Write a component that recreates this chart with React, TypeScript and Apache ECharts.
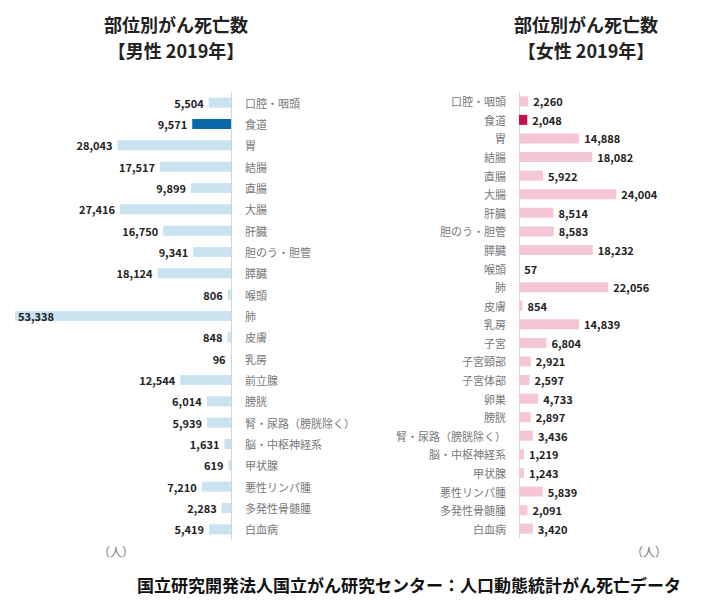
import React, { useEffect, useRef } from "react";
import * as echarts from "echarts";

const maleCategories = ["口腔・咽頭", "食道", "胃", "結腸", "直腸", "大腸", "肝臓", "胆のう・胆管", "膵臓", "喉頭", "肺", "皮膚", "乳房", "前立腺", "膀胱", "腎・尿路（膀胱除く）", "脳・中枢神経系", "甲状腺", "悪性リンパ腫", "多発性骨髄腫", "白血病"];
const maleValues = [5504, 9571, 28043, 17517, 9899, 27416, 16750, 9341, 18124, 806, 53338, 848, 96, 12544, 6014, 5939, 1631, 619, 7210, 2283, 5419];

const femaleCategories = ["口腔・咽頭", "食道", "胃", "結腸", "直腸", "大腸", "肝臓", "胆のう・胆管", "膵臓", "喉頭", "肺", "皮膚", "乳房", "子宮", "子宮頸部", "子宮体部", "卵巣", "膀胱", "腎・尿路（膀胱除く）", "脳・中枢神経系", "甲状腺", "悪性リンパ腫", "多発性骨髄腫", "白血病"];
const femaleValues = [2260, 2048, 14888, 18082, 5922, 24004, 8514, 8583, 18232, 57, 22056, 854, 14839, 6804, 2921, 2597, 4733, 2897, 3436, 1219, 1243, 5839, 2091, 3420];

const highlight = "食道";
const FONT = "'Noto Sans CJK JP', 'Noto Sans', sans-serif";

const fmt = (v: number) => v.toLocaleString("en-US");

export default function App() {
  const ref = useRef<HTMLDivElement>(null);
  useEffect(() => {
    if (!ref.current) return;
    const chart = echarts.init(ref.current, null, { renderer: "svg" });
    const maleMax = Math.max(...maleValues);
    const maleData = maleValues.map((v, i) => {
      const item: any = {
        value: v,
        itemStyle: { color: maleCategories[i] === highlight ? "#0a69ab" : "#c9e3f1" },
      };
      if (v === maleMax) {
        item.label = { position: "insideLeft", distance: 3 };
      }
      return item;
    });
    const femaleData = femaleValues.map((v, i) => ({
      value: v,
      itemStyle: { color: femaleCategories[i] === highlight ? "#c5124c" : "#f5c6d5" },
    }));
    const valueLabel = {
      show: true,
      fontFamily: FONT,
      fontSize: 11,
      fontWeight: "bold",
      color: "#222",
      formatter: (p: any) => fmt(p.value),
    };
    const titleStyle = { fontSize: 18, fontWeight: "bold", color: "#222", fontFamily: FONT };
    chart.setOption({
      animation: false,
      textStyle: { fontFamily: FONT },
      title: [
        { text: "部位別がん死亡数", left: 171, top: 10, textAlign: "center", textStyle: titleStyle },
        { text: "【男性 2019年】", left: 171, top: 36, textAlign: "center", textStyle: titleStyle },
        { text: "部位別がん死亡数", left: 581, top: 10, textAlign: "center", textStyle: titleStyle },
        { text: "【女性 2019年】", left: 581, top: 36, textAlign: "center", textStyle: titleStyle },
      ],
      grid: [
        { left: 15, width: 216, top: 92, height: 448 },
        { left: 519, width: 162, top: 92, height: 446 },
      ],
      xAxis: [
        { gridIndex: 0, type: "value", min: 0, max: 53338, inverse: true, show: false },
        { gridIndex: 1, type: "value", min: 0, max: 40000, show: false },
      ],
      yAxis: [
        {
          gridIndex: 0, type: "category", data: maleCategories, inverse: true, position: "right",
          axisLine: { show: true, onZero: false, lineStyle: { color: "#cfd6de", width: 1 } },
          axisTick: { show: false },
          axisLabel: { margin: 14, align: "left", fontSize: 11, color: "#777", fontFamily: FONT },
        },
        {
          gridIndex: 1, type: "category", data: femaleCategories, inverse: true, position: "left",
          axisLine: { show: true, onZero: false, lineStyle: { color: "#cfd6de", width: 1 } },
          axisTick: { show: false },
          axisLabel: { margin: 13, fontSize: 11, color: "#777", fontFamily: FONT },
        },
      ],
      series: [
        {
          type: "bar", xAxisIndex: 0, yAxisIndex: 0, data: maleData, barWidth: 10,
          label: { ...valueLabel, position: "left", distance: 5 },
        },
        {
          type: "bar", xAxisIndex: 1, yAxisIndex: 1, data: femaleData, barWidth: 10,
          label: { ...valueLabel, position: "right", distance: 5 },
        },
      ],
      graphic: [
        { type: "text", left: 98, top: 545, style: { text: "（人）", fontSize: 12, fill: "#777", fontFamily: FONT } },
        { type: "text", left: 631, top: 545, style: { text: "（人）", fontSize: 12, fill: "#777", fontFamily: FONT } },
        { type: "text", left: 137, top: 576, style: { text: "国立研究開発法人国立がん研究センター：人口動態統計がん死亡データ", fontSize: 17, fontWeight: "bold", fill: "#111", fontFamily: FONT } },
      ],
    });
    return () => chart.dispose();
  }, []);
  return <div ref={ref} style={{ width: 704, height: 612, position: "absolute", left: 0, top: 0 }} />;
}
